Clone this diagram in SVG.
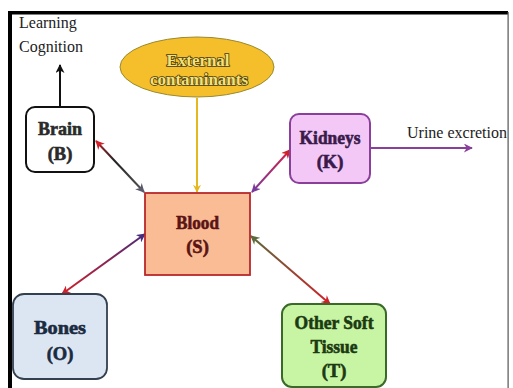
<svg xmlns="http://www.w3.org/2000/svg" width="513" height="388" viewBox="0 0 513 388">
<defs>
<style>
.lbl{font-family:"Liberation Serif","Times New Roman",serif;font-size:16px;fill:#222}
.nb{font-family:"Liberation Serif","Times New Roman",serif;font-weight:bold;font-size:18.5px;text-anchor:middle;stroke-width:0.6px}
.ext{font-family:"Liberation Serif","Times New Roman",serif;font-weight:bold;font-size:17px;text-anchor:middle;fill:#f3e27a;stroke:#4a3a10;stroke-width:1.6px;paint-order:stroke}
.con{fill:none;stroke-width:2}
</style>
<marker id="aBlack" viewBox="0 0 10 10" refX="9" refY="5" markerWidth="10" markerHeight="9" markerUnits="userSpaceOnUse" orient="auto-start-reverse"><path d="M0,0 L10,5 L0,10 L3,5 Z" fill="#111"/></marker>
<marker id="aGold" viewBox="0 0 10 10" refX="9" refY="5" markerWidth="9" markerHeight="8" markerUnits="userSpaceOnUse" orient="auto-start-reverse"><path d="M0,0 L10,5 L0,10 L3,5 Z" fill="#e6b820"/></marker>
<marker id="aRed" viewBox="0 0 10 10" refX="9" refY="5" markerWidth="10" markerHeight="9" markerUnits="userSpaceOnUse" orient="auto-start-reverse"><path d="M0,0 L10,5 L0,10 L3,5 Z" fill="#d0202a"/></marker>
<marker id="aGray" viewBox="0 0 10 10" refX="9" refY="5" markerWidth="10" markerHeight="9" markerUnits="userSpaceOnUse" orient="auto-start-reverse"><path d="M0,0 L10,5 L0,10 L3,5 Z" fill="#5a5a6a"/></marker>
<marker id="aPurple" viewBox="0 0 10 10" refX="9" refY="5" markerWidth="10" markerHeight="9" markerUnits="userSpaceOnUse" orient="auto-start-reverse"><path d="M0,0 L10,5 L0,10 L3,5 Z" fill="#7a3a9a"/></marker>
<marker id="aNavy" viewBox="0 0 10 10" refX="9" refY="5" markerWidth="10" markerHeight="9" markerUnits="userSpaceOnUse" orient="auto-start-reverse"><path d="M0,0 L10,5 L0,10 L3,5 Z" fill="#4a2a7a"/></marker>
<marker id="aOlive" viewBox="0 0 10 10" refX="9" refY="5" markerWidth="10" markerHeight="9" markerUnits="userSpaceOnUse" orient="auto-start-reverse"><path d="M0,0 L10,5 L0,10 L3,5 Z" fill="#5a6a3a"/></marker>
<marker id="aUrine" viewBox="0 0 10 10" refX="9" refY="5" markerWidth="11" markerHeight="9" markerUnits="userSpaceOnUse" orient="auto"><path d="M0,0 L10,5 L0,10 L3,5 Z" fill="#8a3f9a"/></marker>
<linearGradient id="gBrain" gradientUnits="userSpaceOnUse" x1="95" y1="140" x2="144" y2="192"><stop offset="0" stop-color="#c0202a"/><stop offset="0.4" stop-color="#222"/><stop offset="1" stop-color="#555"/></linearGradient>
<linearGradient id="gKid" gradientUnits="userSpaceOnUse" x1="290" y1="150" x2="251" y2="192"><stop offset="0" stop-color="#d0204a"/><stop offset="1" stop-color="#7a3a9a"/></linearGradient>
<linearGradient id="gBone" gradientUnits="userSpaceOnUse" x1="62" y1="294" x2="145" y2="234"><stop offset="0" stop-color="#d0202a"/><stop offset="1" stop-color="#4a2a7a"/></linearGradient>
<linearGradient id="gSoft" gradientUnits="userSpaceOnUse" x1="251" y1="236" x2="330" y2="304"><stop offset="0" stop-color="#5a6a3a"/><stop offset="1" stop-color="#d0202a"/></linearGradient>
</defs>
<rect x="0" y="0" width="513" height="388" fill="#ffffff"/>
<!-- frame -->
<rect x="8" y="11" width="4" height="377" fill="#000"/>
<rect x="8" y="11" width="500" height="3.5" fill="#000"/>
<rect x="507.5" y="12" width="1.2" height="376" fill="#555"/>

<g id="connectors">
<line class="con" x1="60" y1="107" x2="60" y2="65" stroke="#111" marker-end="url(#aBlack)"/>
<line class="con" x1="197" y1="98" x2="197" y2="192" stroke="#e6b820" stroke-width="1.6" marker-end="url(#aGold)"/>
<line class="con" x1="96" y1="141" x2="144" y2="192" stroke="url(#gBrain)" marker-start="url(#aRed)" marker-end="url(#aGray)"/>
<line class="con" x1="290" y1="150" x2="252" y2="192" stroke="url(#gKid)" marker-start="url(#aRed)" marker-end="url(#aPurple)"/>
<line class="con" x1="62" y1="294" x2="145" y2="234" stroke="url(#gBone)" marker-start="url(#aRed)" marker-end="url(#aNavy)"/>
<line class="con" x1="251" y1="236" x2="330" y2="304" stroke="url(#gSoft)" marker-start="url(#aOlive)" marker-end="url(#aRed)"/>
<line class="con" x1="370" y1="148" x2="472" y2="148" stroke="#8a3f9a" marker-end="url(#aUrine)"/>
</g>

<g id="learning">
<text class="lbl" x="19" y="28">Learning</text>
<text class="lbl" x="19" y="52">Cognition</text>
</g>
<g id="urine">
<text class="lbl" x="407" y="138" font-size="15.5">Urine excretion</text>
</g>

<g id="contaminants">
<ellipse cx="197" cy="67" rx="77" ry="30" fill="#f4bf2a" stroke="#9a8a30" stroke-width="1"/>
<text class="ext" x="198" y="66" textLength="63" lengthAdjust="spacingAndGlyphs">External</text>
<text class="ext" x="199" y="85" textLength="98" lengthAdjust="spacingAndGlyphs">contaminants</text>
</g>

<g id="brain">
<rect x="26" y="107" width="68" height="65" rx="9" fill="#fff" stroke="#111" stroke-width="2"/>
<text class="nb" x="60" y="135" fill="#2a2a2a" stroke="#2a2a2a" textLength="44" lengthAdjust="spacingAndGlyphs">Brain</text>
<text class="nb" x="60" y="160" fill="#2a2a2a" stroke="#2a2a2a">(B)</text>
</g>

<g id="blood">
<rect x="145" y="193" width="105" height="82" fill="#f9bc94" stroke="#b8282a" stroke-width="1.8"/>
<text class="nb" x="197.5" y="229" fill="#5a1414" stroke="#5a1414" textLength="43" lengthAdjust="spacingAndGlyphs">Blood</text>
<text class="nb" x="197.5" y="253" fill="#5a1414" stroke="#5a1414">(S)</text>
</g>

<g id="kidneys">
<rect x="290" y="114" width="80" height="69" rx="9" fill="#f3c8f7" stroke="#8a3f9a" stroke-width="2"/>
<text class="nb" x="330" y="144" fill="#3a1a4a" stroke="#3a1a4a" textLength="61" lengthAdjust="spacingAndGlyphs">Kidneys</text>
<text class="nb" x="330" y="168" fill="#3a1a4a" stroke="#3a1a4a">(K)</text>
</g>

<g id="bones">
<rect x="13" y="294" width="94" height="85" rx="11" fill="#dce6f2" stroke="#33404f" stroke-width="1.8"/>
<text class="nb" x="60" y="334" fill="#1a2a40" stroke="#1a2a40" textLength="52" lengthAdjust="spacingAndGlyphs">Bones</text>
<text class="nb" x="60" y="360" fill="#1a2a40" stroke="#1a2a40">(O)</text>
</g>

<g id="soft">
<rect x="282" y="304" width="104" height="83" rx="10" fill="#c8f5a4" stroke="#3a6a2a" stroke-width="2"/>
<text class="nb" x="334" y="329" fill="#1c3a12" stroke="#1c3a12" textLength="79" lengthAdjust="spacingAndGlyphs">Other Soft</text>
<text class="nb" x="334" y="353" fill="#1c3a12" stroke="#1c3a12" textLength="47" lengthAdjust="spacingAndGlyphs">Tissue</text>
<text class="nb" x="334" y="377" fill="#1c3a12" stroke="#1c3a12">(T)</text>
</g>
</svg>
